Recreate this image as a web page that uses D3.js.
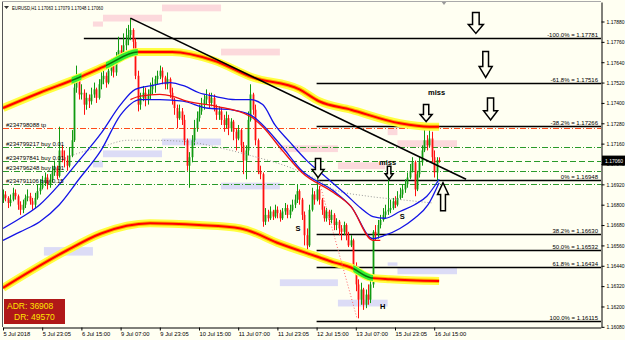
<!DOCTYPE html>
<html>
<head>
<meta charset="utf-8">
<script src="https://cdn.jsdelivr.net/npm/d3@7"></script>
<style>
  body { margin: 0; background: #fffff2; }
  svg { display: block; font-family: "Liberation Sans", Arial, sans-serif; }
</style>
</head>
<body>
<svg id="chart" width="625" height="340"></svg>
<script>
// ---- data (bar index = hours from 5 Jul 00:00) ----
var symbolTitle = 'EURUSD,H1  1.17063 1.17079 1.17048 1.17060';
var firstOpen = 1.1683;
var closes = [
  1.1686,1.1684,1.1681,1.1683,1.1687,1.1685,1.1680,1.1677,1.1680,1.1684,
  1.1685,1.1682,1.1680,1.1684,1.1688,1.1690,1.1693,1.1696,1.1692,1.1695,
  1.1699,1.1702,1.1697,1.1712,1.1708,1.1706,1.1703,1.1709,1.1718,1.1749,
  1.1754,1.1745,1.1746,1.1739,1.1743,1.1741,1.1745,1.1748,1.1743,1.1751,
  1.1754,1.1756,1.1752,1.1759,1.1762,1.1758,1.1765,1.1771,1.1768,1.1774,
  1.1777,1.1780,1.1783,1.1776,1.1756,1.1739,1.1743,1.1746,1.1742,1.1745,
  1.1748,1.1751,1.1754,1.1756,1.1759,1.1755,1.1751,1.1754,1.1746,1.1742,
  1.1737,1.1731,1.1735,1.1730,1.1718,1.1703,1.1708,1.1718,1.1725,1.1731,
  1.1735,1.1739,1.1742,1.1744,1.1740,1.1743,1.1737,1.1733,1.1735,1.1730,
  1.1727,1.1731,1.1725,1.1729,1.1723,1.1719,1.1724,1.1715,1.1706,1.1712,
  1.1730,1.1745,1.1736,1.1718,1.1700,1.1698,1.1670,1.1674,1.1672,1.1676,
  1.1673,1.1677,1.1675,1.1672,1.1676,1.1678,1.1674,1.1677,1.1680,1.1683,
  1.1688,1.1683,1.1674,1.1662,1.1656,1.1677,1.1686,1.1683,1.1689,1.1683,
  1.1677,1.1672,1.1676,1.1671,1.1674,1.1668,1.1670,1.1666,1.1664,1.1668,
  1.1662,1.1656,1.1659,1.1644,1.1633,1.1624,1.1630,1.1621,1.1627,1.1624,
  1.1633,1.1664,1.1662,1.1668,1.1671,1.1674,1.1676,1.1677,1.1678,1.1682,
  1.1680,1.1684,1.1686,1.1689,1.1692,1.1696,1.1700,1.1705,1.1689,1.1698,
  1.1705,1.1712,1.1718,1.1715,1.1719,1.1708,1.1699,1.17063,1.17060
];
var highs = [
  1.1689,1.1688,1.1685,1.1686,1.1690,1.1689,1.1686,1.1682,1.1683,1.1686,
  1.1689,1.1687,1.1684,1.1687,1.1692,1.1695,1.1697,1.1699,1.1698,1.1698,
  1.1703,1.1706,1.1703,1.1726,1.1715,1.1712,1.1709,1.1714,1.1724,1.1756,
  1.1762,1.1755,1.1751,1.1748,1.1746,1.1745,1.1749,1.1752,1.1749,1.1754,
  1.1758,1.1761,1.1758,1.1764,1.1766,1.1765,1.1770,1.1779,1.1774,1.1781,
  1.1784,1.1786,1.1790,1.1784,1.1778,1.1759,1.1746,1.1750,1.1749,1.1748,
  1.1752,1.1755,1.1756,1.1759,1.1762,1.1761,1.1756,1.1758,1.1755,1.1749,
  1.1743,1.1739,1.1739,1.1737,1.1733,1.1719,1.1711,1.1721,1.1730,1.1735,
  1.1739,1.1743,1.1745,1.1748,1.1746,1.1746,1.1745,1.1739,1.1738,1.1737,
  1.1733,1.1735,1.1733,1.1731,1.1730,1.1725,1.1727,1.1725,1.1717,1.1715,
  1.1735,1.1751,1.1746,1.1739,1.1719,1.1703,1.1699,1.1678,1.1677,1.1679,
  1.1677,1.1680,1.1679,1.1677,1.1678,1.1681,1.1680,1.1680,1.1683,1.1686,
  1.1692,1.1689,1.1684,1.1676,1.1666,1.1680,1.1690,1.1688,1.1698,1.1691,
  1.1684,1.1679,1.1678,1.1677,1.1677,1.1675,1.1672,1.1671,1.1668,1.1670,
  1.1669,1.1664,1.1662,1.1660,1.1646,1.1636,1.1634,1.1631,1.1630,1.1633,
  1.1636,1.1665,1.1668,1.1671,1.1674,1.1678,1.1680,1.1702,1.1683,1.1684,
  1.1685,1.1688,1.1690,1.1692,1.1695,1.1699,1.1704,1.1708,1.1706,1.1700,
  1.1708,1.1715,1.1725,1.1721,1.1724,1.1723,1.1712,1.1708,1.17079
];
var lows = [
  1.1681,1.1682,1.1678,1.1679,1.1682,1.1683,1.1677,1.1674,1.1675,1.1678,
  1.1682,1.1680,1.1677,1.1678,1.1683,1.1686,1.1689,1.1691,1.1689,1.1690,
  1.1693,1.1697,1.1695,1.1696,1.1705,1.1702,1.1700,1.1702,1.1708,1.1717,
  1.1746,1.1742,1.1742,1.1733,1.1736,1.1737,1.1739,1.1743,1.1740,1.1742,
  1.1748,1.1751,1.1749,1.1751,1.1756,1.1755,1.1756,1.1764,1.1765,1.1766,
  1.1771,1.1774,1.1777,1.1772,1.1754,1.1735,1.1736,1.1741,1.1738,1.1739,
  1.1742,1.1745,1.1746,1.1751,1.1754,1.1751,1.1748,1.1748,1.1743,1.1739,
  1.1733,1.1725,1.1730,1.1727,1.1715,1.1700,1.1690,1.1705,1.1715,1.1723,
  1.1729,1.1733,1.1736,1.1739,1.1737,1.1738,1.1735,1.1730,1.1730,1.1727,
  1.1723,1.1725,1.1721,1.1723,1.1718,1.1712,1.1718,1.1711,1.1698,1.1695,
  1.1709,1.1729,1.1733,1.1715,1.1698,1.1695,1.1667,1.1668,1.1670,1.1671,
  1.1671,1.1672,1.1672,1.1670,1.1671,1.1674,1.1672,1.1672,1.1676,1.1678,
  1.1681,1.1680,1.1671,1.1656,1.1652,1.1655,1.1676,1.1680,1.1682,1.1680,
  1.1674,1.1670,1.1670,1.1668,1.1669,1.1665,1.1665,1.1662,1.1659,1.1662,
  1.1659,1.1655,1.1655,1.1643,1.1629,1.1613,1.1621,1.1618,1.1619,1.1621,
  1.1622,1.1631,1.1659,1.1660,1.1666,1.1670,1.1672,1.1674,1.1675,1.1677,
  1.1678,1.1679,1.1683,1.1684,1.1687,1.1690,1.1695,1.1699,1.1685,1.1688,
  1.1696,1.1703,1.1711,1.1712,1.1714,1.1705,1.1696,1.1693,1.17048
];

// time axis
var timeTicks = [0, 16, 32, 48, 64, 80, 96, 112, 128, 144, 160, 176];
var timeLabels = ['5 Jul 2018', '5 Jul 23:05', '6 Jul 15:00', '9 Jul 07:00', '9 Jul 23:05', '10 Jul 15:00',
                  '11 Jul 07:00', '11 Jul 23:05', '12 Jul 15:00', '13 Jul 07:00', '15 Jul 23:05', '16 Jul 15:00'];
// price axis
var priceTicks = [1.16080, 1.16200, 1.16320, 1.16440, 1.16560, 1.16680, 1.16800, 1.16920, 1.17040,
                  1.17160, 1.17280, 1.17400, 1.17520, 1.17640, 1.17760, 1.17880];
var lastPrice = 1.17060;

// indicator lines, sampled as [bar, price]
var upperBand = [[0,1.1737],[15,1.1746],[31,1.1755],[42,1.1762],[55,1.1770],[69,1.1770],[86,1.1765],[102,1.1755],[121,1.1748],[129,1.1741],[142,1.1736],[162,1.1728],[174,1.1726],[178,1.1726]];
var lowerBand = [[0,1.1631],[26,1.1653],[40,1.1663],[60,1.1669],[80,1.1668],[97,1.1666],[113,1.1657],[129,1.1649],[135,1.1646],[142,1.1643],[150,1.1637],[158,1.1636],[178,1.1635]];
var upperHighlights = [[28, 32], [42, 55]];
var lowerHighlights = [[143, 151]];
var blueUpper = [[0,1.1666],[7,1.1672],[15,1.1680],[23,1.1692],[31,1.1706],[40,1.1722],[48,1.1739],[54,1.1748],[60,1.1750],[68,1.1752],[74,1.1750],[80,1.1746],[86,1.1744],[95,1.1742],[101,1.1742],[106,1.1739],[111,1.1727],[117,1.1717],[124,1.1706],[132,1.1696],[140,1.1686],[146,1.1678],[151,1.1673],[156,1.1672],[162,1.1676],[168,1.1680],[173,1.1685],[178,1.1695]];
var blueLower = [[0,1.1659],[7,1.1664],[15,1.1670],[23,1.1680],[31,1.1695],[40,1.1712],[48,1.1733],[56,1.1742],[64,1.1742],[73.5,1.1741],[83,1.1737],[93,1.1736],[101,1.1733],[106,1.1727],[114,1.1714],[122,1.1700],[135,1.1688],[142,1.1679],[151,1.1660],[156,1.1662],[162,1.1666],[168,1.1672],[173.5,1.1680],[178,1.1693]];
var redMa = [[52,1.1742],[56,1.1744],[64,1.1745],[69,1.1744],[75,1.1741],[87,1.1738],[101,1.1732],[106,1.1726],[114,1.1712],[122,1.1699],[135,1.1687],[142,1.1679],[151,1.1659],[154,1.1659]];
var grayDots = [[23,1.1706],[30,1.1710],[40,1.1714],[51,1.1718],[61,1.1718],[76,1.1717],[87,1.1714],[101,1.1709],[117,1.1702],[128,1.1695],[135,1.1689],[149,1.1685],[162,1.1683],[175.5,1.1681]];

// zones [barFrom, barTo, priceTop, priceBottom]
var supplyZones = [[64.9,89,1.1798,1.1794],[40.8,64.9,1.1792,1.1788],[36.7,40.8,1.1788,1.1785],[89,113,1.1772,1.1768],
                   [113,136.7,1.1715,1.1711],[136.7,156,1.1705,1.1701],[157,161,1.1725,1.1721],[161,185.3,1.1718,1.1714]];
var demandZones = [[40.8,64.9,1.1712,1.1708],[36.7,40.8,1.1706,1.1702],[64.9,89,1.1719,1.1715],[89,113,1.1693,1.1689],
                   [16.7,36.7,1.1655,1.1650],[113,136.7,1.1636,1.1632],[136.7,157,1.1624,1.1620],[157,161,1.1646,1.1644],[161,185.3,1.1643,1.1639]];

// fibonacci levels
var fibNames = ['-100.0%', '-61.8%', '-38.2%', '0%', '38.2%', '50.0%', '61.8%', '100.0%'];
var fibPrices = [1.17781, 1.17516, 1.17266, 1.16948, 1.16630, 1.16532, 1.16434, 1.16115];
var fibStartBar = [33, 128, 128, 128, 128, 128, 128, 128];

// open orders
var orderNames = ['#234798088 tp', '#234799217 buy 0.01', '#234797841 buy 0.01', '#234796248 buy 0.01', '#234791106 buy 0.15'];
var orderPrices = [1.1725, 1.1714, 1.1706, 1.1700, 1.1692];
var orderKinds = ['tp', 'buy', 'buy', 'buy', 'buy'];

// drawn objects
var trendLine = [[52, 1.1790], [189, 1.1695]];
var dottedLines = [[[128.6, 1.1696], [144.5, 1.1613]]];
var arrowBars = [193, 197, 199, 172.7, 157.6, 128.6, 179.6];
var arrowPrices = [1.1781, 1.1755, 1.1730, 1.1729, 1.1695, 1.1696, 1.1693];
var arrowDirs = ['down', 'down', 'down', 'down', 'down', 'down', 'up'];
var noteTexts = ['miss', 'miss', 'S', 'S', 'H'];
var noteBars = [177, 157, 120.4, 163, 155];
var notePrices = [1.1746, 1.1705, 1.1666, 1.1673, 1.1620];
var adrLines = ['ADR: 36908', 'DR: 49570'];

// ---- chart ----
// (no "top" here: window.top is read-only)
var svg = d3.select('#chart'),
    plotL = 3, plotR = 601, plotT = 2, plotB = 327;

var x = d3.scaleLinear().domain([0, 244]).range([plotL, 600.8]),
    y = d3.scaleLinear().domain([1.16079, 1.17995]).range([plotB, plotT]);

var defs = svg.append('defs');
defs.append('clipPath').attr('id', 'plotClip')
  .append('rect').attr('x', 2).attr('y', plotT).attr('width', plotR - 2).attr('height', plotB - plotT);

svg.append('rect').attr('width', 625).attr('height', 340).attr('fill', '#fffff2');

var plot = svg.append('g').attr('clip-path', 'url(#plotClip)');

// zones
function zone(list, color) {
  plot.append('g').selectAll('rect')
    .data(list)
    .enter().append('rect')
      .attr('x', function(d) { return x(d[0]); })
      .attr('y', function(d) { return y(d[2]); })
      .attr('width', function(d) { return x(d[1]) - x(d[0]); })
      .attr('height', function(d) { return y(d[3]) - y(d[2]); })
      .attr('fill', color);
}
zone(supplyZones, '#fcd9dc');
zone(demandZones, '#dcdcf6');

// order lines
var orders = orderPrices.map(function(p, i) { return { p: p, name: orderNames[i], kind: orderKinds[i] }; });
plot.append('g').selectAll('line')
  .data(orders)
  .enter().append('line')
    .attr('x1', plotL).attr('x2', plotR)
    .attr('y1', function(d) { return Math.round(y(d.p)) + 0.5; })
    .attr('y2', function(d) { return Math.round(y(d.p)) + 0.5; })
    .attr('stroke', function(d) { return d.kind === 'tp' ? '#ff4a1a' : '#2a9a2a'; })
    .attr('stroke-dasharray', function(d, i) { return i === 2 ? '6,3' : '6,2,1,2'; });

// fib lines
var fibs = fibPrices.map(function(p, i) { return { p: p, name: fibNames[i], start: fibStartBar[i] }; });
var fibG = plot.append('g');
fibG.selectAll('line')
  .data(fibs)
  .enter().append('line')
    .attr('x1', function(d) { return x(d.start); })
    .attr('x2', plotR)
    .attr('y1', function(d) { return Math.round(y(d.p)) + 0.5; })
    .attr('y2', function(d) { return Math.round(y(d.p)) + 0.5; })
    .attr('stroke', '#000').attr('stroke-width', 1.4);

// candles
var bars = closes.map(function(c, i) {
  return { i: i, o: i === 0 ? firstOpen : closes[i - 1], h: highs[i], l: lows[i], c: c };
});
var candle = plot.append('g').selectAll('g')
  .data(bars)
  .enter().append('g');
candle.append('line')
  .attr('x1', function(d) { return Math.round(x(d.i)) + 0.5; })
  .attr('x2', function(d) { return Math.round(x(d.i)) + 0.5; })
  .attr('y1', function(d) { return y(d.h); })
  .attr('y2', function(d) { return y(d.l); })
  .attr('stroke', function(d) { return d.c >= d.o ? '#109a10' : '#ff1010'; });
candle.append('rect')
  .attr('x', function(d) { return Math.round(x(d.i)) - 0.4; })
  .attr('width', 1.8)
  .attr('y', function(d) { return y(Math.max(d.o, d.c)); })
  .attr('height', function(d) { return Math.max(1, Math.abs(y(d.o) - y(d.c))); })
  .attr('fill', function(d) { return d.c >= d.o ? '#109a10' : '#ff1010'; });

// moving averages
var line = d3.line()
  .x(function(d) { return x(d[0]); })
  .y(function(d) { return y(d[1]); })
  .curve(d3.curveMonotoneX);

plot.append('path').attr('d', line(grayDots)).attr('fill', 'none')
  .attr('stroke', '#999').attr('stroke-dasharray', '1,2');
plot.append('path').attr('d', line(blueLower)).attr('fill', 'none').attr('stroke', '#1414e6').attr('stroke-width', 1.3);
plot.append('path').attr('d', line(redMa)).attr('fill', 'none').attr('stroke', '#ee1111').attr('stroke-width', 1.3);
plot.append('path').attr('d', line(blueUpper)).attr('fill', 'none').attr('stroke', '#1414e6').attr('stroke-width', 1.3);

// thick yellow/red bands with green highlights
function band(points, highlights, id) {
  var d = line(points);
  plot.append('path').attr('d', d).attr('fill', 'none').attr('stroke', '#ffff40').attr('stroke-width', 8);
  plot.append('path').attr('d', d).attr('fill', 'none').attr('stroke', '#ffb000').attr('stroke-width', 4);
  plot.append('path').attr('d', d).attr('fill', 'none').attr('stroke', '#ff0000').attr('stroke-width', 2);
  highlights.forEach(function(h, k) {
    defs.append('clipPath').attr('id', id + k)
      .append('rect').attr('x', x(h[0])).attr('y', 0).attr('width', x(h[1]) - x(h[0])).attr('height', 340);
    var g = plot.append('g').attr('clip-path', 'url(#' + id + k + ')');
    g.append('path').attr('d', d).attr('fill', 'none').attr('stroke', '#33ee33').attr('stroke-width', 6).attr('stroke-linecap', 'round');
    g.append('path').attr('d', d).attr('fill', 'none').attr('stroke', '#0a6e0a').attr('stroke-width', 1.5);
  });
}
band(upperBand, upperHighlights, 'hu');
band(lowerBand, lowerHighlights, 'hl');

// trend line and dotted lines
plot.append('line')
  .attr('x1', x(trendLine[0][0])).attr('y1', y(trendLine[0][1]))
  .attr('x2', x(trendLine[1][0])).attr('y2', y(trendLine[1][1]))
  .attr('stroke', '#000').attr('stroke-width', 1.6);
dottedLines.forEach(function(s) {
  plot.append('line')
    .attr('x1', x(s[0][0])).attr('y1', y(s[0][1]))
    .attr('x2', x(s[1][0])).attr('y2', y(s[1][1]))
    .attr('stroke', '#ff6a6a').attr('stroke-dasharray', '1,2');
});

// hollow arrows (size in px: [width, height])
var arrowSize = [[15, 21], [13, 26], [14, 22], [12, 17], [8, 13], [12, 19], [11, 28]];
function arrowPath(w, h) {
  var s = w * 0.22, hh = h * 0.42;
  return 'M0,0L' + (-w / 2) + ',' + (-hh) + 'L' + (-s) + ',' + (-hh) + 'L' + (-s) + ',' + (-h) +
         'L' + s + ',' + (-h) + 'L' + s + ',' + (-hh) + 'L' + (w / 2) + ',' + (-hh) + 'Z';
}
plot.append('g').selectAll('path')
  .data(arrowBars.map(function(b, i) { return { b: b, p: arrowPrices[i], dir: arrowDirs[i], s: arrowSize[i] }; }))
  .enter().append('path')
    .attr('transform', function(d) {
      return 'translate(' + x(d.b) + ',' + y(d.p) + ')' + (d.dir === 'up' ? ' scale(1,-1)' : '');
    })
    .attr('d', function(d) { return arrowPath(d.s[0], d.s[1]); })
    .attr('fill', '#fffff2').attr('stroke', '#000').attr('stroke-width', 1.5);

// notes
plot.append('g').selectAll('text')
  .data(noteTexts.map(function(t, i) { return { t: t, b: noteBars[i], p: notePrices[i] }; }))
  .enter().append('text')
    .attr('x', function(d) { return x(d.b); })
    .attr('y', function(d) { return y(d.p); })
    .attr('dy', '0.35em')
    .attr('text-anchor', 'middle')
    .attr('font-size', 7.5).attr('font-weight', 'bold')
    .text(function(d) { return d.t; });

// fib labels
fibG.selectAll('text')
  .data(fibs)
  .enter().append('text')
    .attr('x', 598)
    .attr('y', function(d) { return Math.round(y(d.p)) - 1; })
    .attr('text-anchor', 'end')
    .attr('font-size', 6)
    .text(function(d) { return d.name + ' = ' + d.p.toFixed(5); });

// order labels
plot.append('g').selectAll('text')
  .data(orders)
  .enter().append('text')
    .attr('x', 6)
    .attr('y', function(d) { return Math.round(y(d.p)) - 1.5; })
    .attr('font-size', 6)
    .text(function(d) { return d.name; });

// title
svg.append('path').attr('d', 'M4,6L9,6L6.5,9Z').attr('fill', '#333');
svg.append('text').attr('x', 12).attr('y', 9.5).attr('font-size', 5.6)
  .attr('textLength', 91).attr('lengthAdjust', 'spacingAndGlyphs')
  .attr('fill', '#000').text(symbolTitle);
svg.append('path').attr('d', 'M441,1L447,1L444,5Z').attr('fill', '#999');

// ADR box
var adr = svg.append('g');
adr.append('rect').attr('x', 4).attr('y', 299).attr('width', 61).attr('height', 25).attr('fill', '#b01818');
adr.selectAll('text')
  .data(adrLines)
  .enter().append('text')
    .attr('x', function(d, i) { return i === 0 ? 7 : 14; })
    .attr('y', function(d, i) { return 309 + i * 11; })
    .attr('font-size', 8.5)
    .attr('fill', '#ffe400')
    .text(function(d) { return d; });

// frame
svg.append('line').attr('x1', 2.5).attr('x2', 2.5).attr('y1', plotT).attr('y2', plotB).attr('stroke', '#555');
svg.append('line').attr('x1', 2).attr('x2', plotR).attr('y1', 1.5).attr('y2', 1.5).attr('stroke', '#aaa');

// axes
var yAxis = svg.append('g')
  .attr('transform', 'translate(' + (plotR + 0.5) + ',0)')
  .call(d3.axisRight(y).tickValues(priceTicks).tickSize(3).tickSizeOuter(0).tickFormat(d3.format('.5f')));
yAxis.selectAll('text').attr('x', 5).attr('font-size', 5.8)
  .attr('textLength', 18).attr('lengthAdjust', 'spacingAndGlyphs')
  .attr('font-family', '"Liberation Sans", Arial, sans-serif');
yAxis.select('.domain').attr('stroke', '#000');

var xAxis = svg.append('g')
  .attr('transform', 'translate(0,' + (plotB + 0.5) + ')')
  .call(d3.axisBottom(x).tickValues(timeTicks).tickSize(3).tickSizeOuter(0)
    .tickFormat(function(d, i) { return timeLabels[i]; }));
xAxis.selectAll('text').attr('text-anchor', 'start').attr('x', 0).attr('y', 4)
  .attr('font-size', 5.8).attr('font-family', '"Liberation Sans", Arial, sans-serif');
xAxis.select('.domain').attr('stroke', '#000');

// last price marker
svg.append('rect').attr('x', plotR + 1).attr('y', y(lastPrice) - 5).attr('width', 23).attr('height', 10).attr('fill', '#000');
svg.append('text').attr('x', plotR + 4).attr('y', y(lastPrice) + 2.2).attr('font-size', 5.8)
  .attr('textLength', 18).attr('lengthAdjust', 'spacingAndGlyphs')
  .attr('fill', '#fff').text(lastPrice.toFixed(5));
</script>
</body>
</html>
